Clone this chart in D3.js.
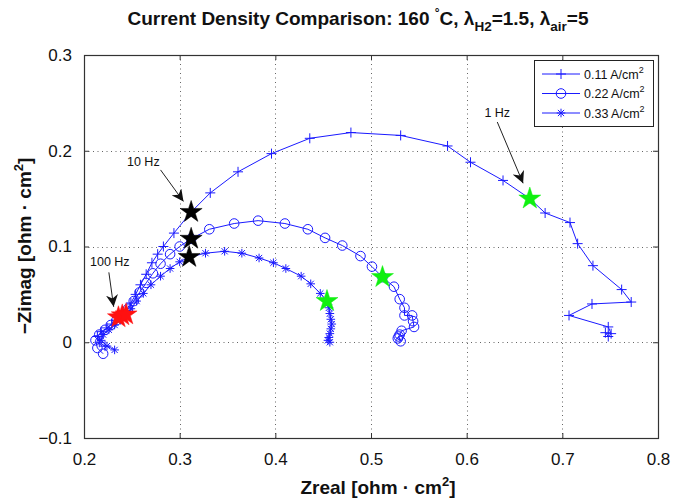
<!DOCTYPE html>
<html>
<head>
<meta charset="utf-8">
<script src="https://cdn.jsdelivr.net/npm/d3@7"></script>
<style>
  body { margin: 0; background: #fff; }
  svg { font-family: "Liberation Sans", Arial, sans-serif; }
</style>
</head>
<body>
<svg id="chart"></svg>
<script>
// ticks
const xTicks = [0.2, 0.3, 0.4, 0.5, 0.6, 0.7, 0.8]
const yTicks = [-0.1, 0, 0.1, 0.2, 0.3]

// 0.11 A/cm2  [Zreal, -Zimag]
const s011 = [
  [0.222, -0.004], [0.216, 0.000], [0.214, 0.006], [0.218, 0.011], [0.224, 0.015],
  [0.229, 0.019], [0.234, 0.023], [0.239, 0.027], [0.244, 0.033], [0.249, 0.041],
  [0.254, 0.050], [0.259, 0.060], [0.265, 0.071], [0.271, 0.083], [0.277, 0.092],
  [0.283, 0.100], [0.294, 0.114], [0.312, 0.136], [0.332, 0.156], [0.361, 0.178],
  [0.396, 0.197], [0.436, 0.213], [0.479, 0.219], [0.531, 0.216], [0.580, 0.205],
  [0.604, 0.188], [0.638, 0.169], [0.666, 0.150], [0.682, 0.135], [0.708, 0.125],
  [0.716, 0.103], [0.732, 0.080], [0.762, 0.055], [0.772, 0.042], [0.731, 0.040],
  [0.707, 0.028], [0.748, 0.016], [0.751, 0.009], [0.748, 0.006], [0.745, 0.010]
]

// 0.22 A/cm2
const s022 = [
  [0.220, -0.012], [0.214, -0.006], [0.212, 0.002], [0.216, 0.008], [0.222, 0.013],
  [0.228, 0.018], [0.234, 0.023], [0.240, 0.028], [0.246, 0.035], [0.252, 0.043],
  [0.258, 0.052], [0.265, 0.062], [0.272, 0.072], [0.280, 0.082], [0.290, 0.092],
  [0.300, 0.100], [0.312, 0.108], [0.331, 0.118], [0.357, 0.124], [0.382, 0.127],
  [0.410, 0.124], [0.434, 0.118], [0.452, 0.109], [0.470, 0.101], [0.489, 0.090],
  [0.501, 0.079], [0.512, 0.068], [0.524, 0.058], [0.530, 0.045], [0.535, 0.036],
  [0.535, 0.028], [0.543, 0.028], [0.544, 0.022], [0.545, 0.016], [0.532, 0.012],
  [0.530, 0.008], [0.528, 0.004], [0.531, 0.001], [0.529, 0.006]
]

// 0.33 A/cm2
const s033 = [
  [0.232, -0.008], [0.224, -0.004], [0.218, 0.002], [0.220, 0.008], [0.226, 0.013],
  [0.232, 0.018], [0.238, 0.023], [0.243, 0.028], [0.249, 0.035], [0.255, 0.043],
  [0.262, 0.051], [0.270, 0.060], [0.280, 0.069], [0.290, 0.077], [0.300, 0.084],
  [0.310, 0.089], [0.327, 0.093], [0.347, 0.095], [0.365, 0.093], [0.383, 0.088],
  [0.398, 0.083], [0.411, 0.077], [0.427, 0.069], [0.437, 0.061], [0.447, 0.051],
  [0.454, 0.043], [0.456, 0.036], [0.457, 0.030], [0.458, 0.024], [0.459, 0.019],
  [0.458, 0.014], [0.457, 0.009], [0.456, 0.005], [0.455, 0.002], [0.457, 0.000]
]

const seriesNames = ['0.11 A/cm', '0.22 A/cm', '0.33 A/cm']
const seriesMarkers = ['plus', 'circle', 'asterisk']

// frequency markers
const stars100Hz = [[0.236, 0.026], [0.240, 0.028], [0.244, 0.029]]
const stars10Hz = [[0.312, 0.136], [0.312, 0.108], [0.310, 0.089]]
const stars1Hz = [[0.666, 0.150], [0.512, 0.068], [0.454, 0.043]]

// annotations: label, text pos, arrow start, arrow tip
const notes = [
  { label: '100 Hz', text: [0.227, 0.080], from: [0.226, 0.073], to: [0.231, 0.037] },
  { label: '10 Hz', text: [0.262, 0.184], from: [0.280, 0.180], to: [0.304, 0.147] },
  { label: '1 Hz', text: [0.632, 0.235], from: [0.632, 0.230], to: [0.659, 0.166] }
]

const width = 674, height = 502
const margin = { top: 55, right: 16, bottom: 64, left: 84 }
const blue = '#1a1aff'

const svg = d3.select('#chart').attr('width', width).attr('height', height)

const x = d3.scaleLinear().domain([0.2, 0.8]).range([margin.left, width - margin.right])
const y = d3.scaleLinear().domain([-0.1, 0.3]).range([height - margin.bottom, margin.top])

const [x0, x1] = x.range()
const [y0, y1] = y.range()

svg.append('defs').append('clipPath').attr('id', 'clip')
  .append('rect').attr('x', x0).attr('y', y1).attr('width', x1 - x0).attr('height', y0 - y1)

// grid
const grid = svg.append('g').attr('stroke', '#666').attr('stroke-width', 1)
  .attr('stroke-dasharray', '1,3.5')
grid.selectAll('.gx').data(xTicks.slice(1, -1)).join('line')
  .attr('x1', d => Math.round(x(d)) + 0.5).attr('x2', d => Math.round(x(d)) + 0.5)
  .attr('y1', y1).attr('y2', y0)
grid.selectAll('.gy').data(yTicks.slice(1, -1)).join('line')
  .attr('y1', d => Math.round(y(d)) + 0.5).attr('y2', d => Math.round(y(d)) + 0.5)
  .attr('x1', x0).attr('x2', x1)

// axes with inward ticks
const fmt = d => d === 0 ? '0' : d3.format('.1f')(d).replace('-', '\u2212')
svg.append('g').attr('transform', `translate(0,${y0})`)
  .call(d3.axisBottom(x).tickValues(xTicks).tickSize(-5).tickPadding(15).tickFormat(fmt))
svg.append('g').attr('transform', `translate(0,${y1})`)
  .call(d3.axisTop(x).tickValues(xTicks).tickSize(-5).tickFormat(''))
svg.append('g').attr('transform', `translate(${x0},0)`)
  .call(d3.axisLeft(y).tickValues(yTicks).tickSize(-5).tickPadding(12).tickFormat(fmt))
svg.append('g').attr('transform', `translate(${x1},0)`)
  .call(d3.axisRight(y).tickValues(yTicks).tickSize(-5).tickFormat(''))

svg.selectAll('.domain').remove()
svg.selectAll('.tick line').attr('stroke', '#333')
svg.selectAll('.tick text').attr('font-size', 17).attr('fill', '#111')
  .attr('font-family', '"Liberation Sans", Arial, sans-serif')

svg.append('rect').attr('x', x0 + 0.5).attr('y', y1 + 0.5)
  .attr('width', x1 - x0).attr('height', y0 - y1)
  .attr('fill', 'none').attr('stroke', '#333').attr('stroke-width', 1.2)

// markers
function markerPath(type, r) {
  if (type === 'plus') return `M${-r},0H${r}M0,${-r}V${r}`
  if (type === 'asterisk') {
    const a = r * 0.72
    return `M${-r},0H${r}M0,${-r}V${r}M${-a},${-a}L${a},${a}M${-a},${a}L${a},${-a}`
  }
  return d3.arc()({ innerRadius: 0, outerRadius: r, startAngle: 0, endAngle: 2 * Math.PI })
}
const markerSize = { plus: 5, circle: 4.8, asterisk: 4.3 }

const line = d3.line().x(d => x(d[0])).y(d => y(d[1]))
const plot = svg.append('g').attr('clip-path', 'url(#clip)')

;[s011, s022, s033].forEach((data, i) => {
  const m = seriesMarkers[i]
  plot.append('path').datum(data).attr('d', line)
    .attr('fill', 'none').attr('stroke', blue).attr('stroke-width', 1)
  plot.append('g').selectAll('path').data(data).join('path')
    .attr('transform', d => `translate(${x(d[0])},${y(d[1])})`)
    .attr('d', markerPath(m, markerSize[m]))
    .attr('fill', 'none').attr('stroke', blue).attr('stroke-width', 1)
})

// pentagram stars
const star = d3.symbol().type(d3.symbolStar).size(150)()
function drawStars(data, color) {
  plot.append('g').selectAll('path').data(data).join('path')
    .attr('transform', d => `translate(${x(d[0])},${y(d[1])})`)
    .attr('d', star).attr('fill', color).attr('stroke', color).attr('stroke-width', 0.5)
}
drawStars(stars100Hz, '#ff1010')
drawStars(stars10Hz, '#000')
drawStars(stars1Hz, '#10f010')

// annotations
svg.append('defs').append('marker').attr('id', 'head')
  .attr('viewBox', '0 0 10 10').attr('refX', 10).attr('refY', 5)
  .attr('markerWidth', 12).attr('markerHeight', 12).attr('markerUnits', 'userSpaceOnUse')
  .attr('orient', 'auto')
  .append('path').attr('d', 'M0,0L10,5L0,10L3,5Z').attr('fill', '#111')

const ann = svg.append('g')
notes.forEach(n => {
  ann.append('line')
    .attr('x1', x(n.from[0])).attr('y1', y(n.from[1]))
    .attr('x2', x(n.to[0])).attr('y2', y(n.to[1]))
    .attr('stroke', '#222').attr('stroke-width', 1).attr('marker-end', 'url(#head)')
  ann.append('text').attr('x', x(n.text[0])).attr('y', y(n.text[1]))
    .attr('text-anchor', 'middle').attr('font-size', 12.5).attr('fill', '#111')
    .text(n.label)
})

// legend
const lg = svg.append('g').attr('transform', 'translate(534,60)')
lg.append('rect').attr('x', 0.5).attr('y', 0.5).attr('width', 119).attr('height', 66)
  .attr('fill', '#fff').attr('stroke', '#222').attr('stroke-width', 1)
seriesNames.forEach((name, i) => {
  const yy = 14 + i * 19.5
  lg.append('line').attr('x1', 8).attr('x2', 46).attr('y1', yy).attr('y2', yy)
    .attr('stroke', blue).attr('stroke-width', 1)
  const m = seriesMarkers[i]
  lg.append('path').attr('transform', `translate(27,${yy})`)
    .attr('d', markerPath(m, markerSize[m])).attr('fill', 'none').attr('stroke', blue)
  const t = lg.append('text').attr('x', 50).attr('y', yy + 4.5).attr('font-size', 12.5).attr('fill', '#111')
  t.append('tspan').text(name)
  t.append('tspan').attr('font-size', 9).attr('dy', -6).text('2')
})

// title
const title = svg.append('text').attr('x', 358).attr('y', 25).attr('text-anchor', 'middle')
  .attr('font-size', 19).attr('font-weight', 'bold').attr('fill', '#111')
title.append('tspan').text('Current Density Comparison: 160 ')
title.append('tspan').attr('font-size', 12).attr('dy', -8).text('°')
title.append('tspan').attr('dy', 8).text('C, λ')
title.append('tspan').attr('font-size', 13.5).attr('dy', 6).text('H2')
title.append('tspan').attr('dy', -6).text('=1.5, λ')
title.append('tspan').attr('font-size', 13.5).attr('dy', 6).text('air')
title.append('tspan').attr('dy', -6).text('=5')

// axis labels
const xl = svg.append('text').attr('x', 378).attr('y', 494).attr('text-anchor', 'middle')
  .attr('font-size', 19).attr('font-weight', 'bold').attr('fill', '#111')
xl.append('tspan').text('Zreal [ohm · cm')
xl.append('tspan').attr('font-size', 13).attr('dy', -8).text('2')
xl.append('tspan').attr('dy', 8).text(']')

const yl = svg.append('text').attr('transform', 'translate(31,246) rotate(-90)')
  .attr('text-anchor', 'middle').attr('font-size', 19).attr('font-weight', 'bold').attr('fill', '#111')
yl.append('tspan').text('\u2212Zimag [ohm · cm')
yl.append('tspan').attr('font-size', 13).attr('dy', -8).text('2')
yl.append('tspan').attr('dy', 8).text(']')
</script>
</body>
</html>
